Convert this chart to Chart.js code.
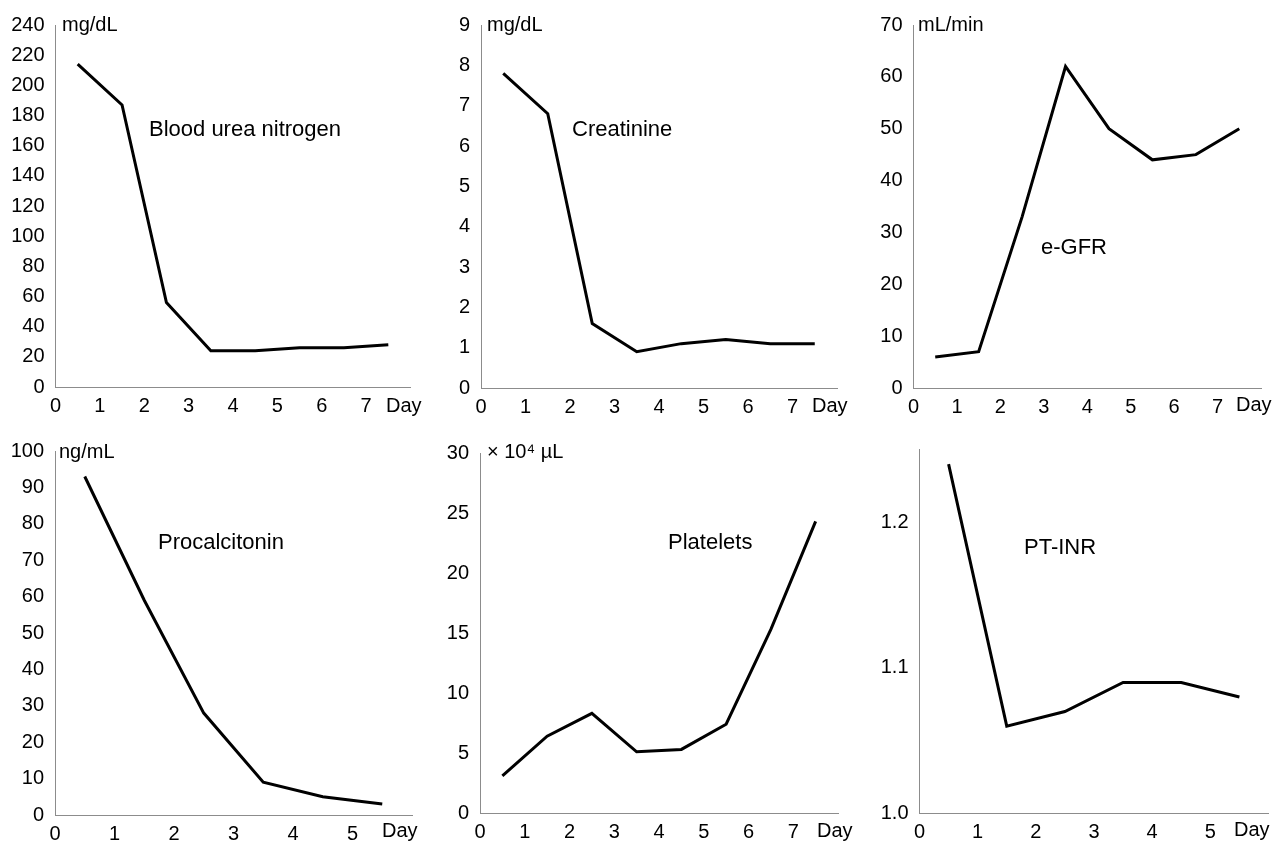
<!DOCTYPE html>
<html>
<head>
<meta charset="utf-8">
<script src="https://cdn.jsdelivr.net/npm/chart.js@4.4.1/dist/chart.umd.min.js"></script>
<style>
  html, body { margin: 0; padding: 0; background: #ffffff; }
  #wrap { position: relative; width: 1272px; height: 841px; overflow: hidden; background: #ffffff; }
  #wrap canvas { position: absolute; left: 0; top: 0; }
</style>
</head>
<body>
<div id="wrap"></div>
<script>
// ---------- data ----------
const days8 = [0.5, 1.5, 2.5, 3.5, 4.5, 5.5, 6.5, 7.5];
const days6 = [0.5, 1.5, 2.5, 3.5, 4.5, 5.5];

const bunValues        = [214, 187, 56, 24, 24, 26, 26, 28];
const creatinineValues = [7.8, 6.8, 1.6, 0.9, 1.1, 1.2, 1.1, 1.1];
const egfrValues       = [6, 7, 33, 62, 50, 44, 45, 50];
const pctValues        = [93, 59, 28, 9, 5, 3];
const plateletValues   = [3.1, 6.4, 8.3, 5.1, 5.3, 7.4, 15.3, 24.3];
const ptinrValues      = [1.24, 1.06, 1.07, 1.09, 1.09, 1.08];

// tick labels
const dayTicks8 = [0, 1, 2, 3, 4, 5, 6, 7];
const dayTicks6 = [0, 1, 2, 3, 4, 5];
const bunTicks  = [0, 20, 40, 60, 80, 100, 120, 140, 160, 180, 200, 220, 240];
const creTicks  = [0, 1, 2, 3, 4, 5, 6, 7, 8, 9];
const egfrTicks = [0, 10, 20, 30, 40, 50, 60, 70];
const pctTicks  = [0, 10, 20, 30, 40, 50, 60, 70, 80, 90, 100];
const pltTicks  = [0, 5, 10, 15, 20, 25, 30];
const inrTicks  = [1.0, 1.1, 1.2];

// names / units
const names = ['Blood urea nitrogen', 'Creatinine', 'e-GFR', 'Procalcitonin', 'Platelets', 'PT-INR'];
const units = ['mg/dL', 'mg/dL', 'mL/min', 'ng/mL', '× 10⁴ µL', ''];
const dayLabel = 'Day';

// ---------- layout (page pixels) ----------
const W = 1272, H = 900;
const FONT = '"Liberation Sans", Arial, Helvetica, sans-serif';
const YW = 50, XH = 34;

const panels = [
  { x: days8, y: bunValues, xMax: 8, xTicks: dayTicks8, yMin: 0, yMax: 240, yTicks: bunTicks, dec: 0,
    area: { l: 55.5, r: 410.5, t: 25, b: 387 },
    name: { x: 149, y: 130 }, unit: { x: 62, y: 25 }, day: { x: 386, y: 406 } },
  { x: days8, y: creatinineValues, xMax: 8, xTicks: dayTicks8, yMin: 0, yMax: 9, yTicks: creTicks, dec: 0,
    area: { l: 481, r: 837, t: 25, b: 388 },
    name: { x: 572, y: 130 }, unit: { x: 487, y: 25 }, day: { x: 812, y: 406 } },
  { x: days8, y: egfrValues, xMax: 8, xTicks: dayTicks8, yMin: 0, yMax: 70, yTicks: egfrTicks, dec: 0,
    area: { l: 913.5, r: 1261, t: 25, b: 388 },
    name: { x: 1041, y: 248 }, unit: { x: 918, y: 25 }, day: { x: 1236, y: 405 } },
  { x: days6, y: pctValues, xMax: 6, xTicks: dayTicks6, yMin: 0, yMax: 100, yTicks: pctTicks, dec: 0,
    area: { l: 55, r: 412, t: 451, b: 815 },
    name: { x: 158, y: 543 }, unit: { x: 59, y: 452 }, day: { x: 382, y: 831 } },
  { x: days8, y: plateletValues, xMax: 8, xTicks: dayTicks8, yMin: 0, yMax: 30, yTicks: pltTicks, dec: 0,
    area: { l: 480, r: 838, t: 453, b: 813 },
    name: { x: 668, y: 543 }, unit: { x: 487, y: 452 }, day: { x: 817, y: 831 } },
  { x: days6, y: ptinrValues, xMax: 6, xTicks: dayTicks6, yMin: 1.0, yMax: 1.25, yTicks: inrTicks, dec: 1,
    area: { l: 919.5, r: 1268.5, t: 449.5, b: 813.5 },
    name: { x: 1024, y: 548 }, unit: { x: 918, y: 452 }, day: { x: 1234, y: 830 } }
];

const panelText = {
  id: 'panelText',
  afterDraw(chart, args, opts) {
    const ctx = chart.ctx;
    ctx.save();
    ctx.fillStyle = '#000';
    ctx.textAlign = 'left';
    ctx.textBaseline = 'middle';
    (opts.items || []).forEach(it => {
      if (!it.text) return;
      ctx.font = it.size + 'px ' + FONT;
      ctx.fillText(it.text, it.x, it.y);
    });
    ctx.restore();
  }
};

const wrap = document.getElementById('wrap');

panels.forEach((p, i) => {
  const cv = document.createElement('canvas');
  cv.width = W; cv.height = H;
  cv.style.width = W + 'px'; cv.style.height = H + 'px';
  wrap.appendChild(cv);

  const pts = p.x.map((d, k) => ({ x: d, y: p.y[k] }));

  new Chart(cv.getContext('2d'), {
    type: 'line',
    data: {
      datasets: [{
        data: pts,
        borderColor: '#000',
        borderWidth: 3,
        pointRadius: 0,
        pointHoverRadius: 0,
        tension: 0,
        fill: false
      }]
    },
    options: {
      responsive: false,
      animation: false,
      devicePixelRatio: 1,
      events: [],
      layout: {
        padding: {
          left: p.area.l - YW,
          right: W - p.area.r,
          top: p.area.t,
          bottom: H - p.area.b - XH
        }
      },
      plugins: {
        legend: { display: false },
        tooltip: { enabled: false },
        panelText: {
          items: [
            { text: names[i], x: p.name.x, y: p.name.y, size: 22 },
            { text: units[i], x: p.unit.x, y: p.unit.y, size: 20 },
            { text: dayLabel, x: p.day.x, y: p.day.y, size: 20 }
          ]
        }
      },
      scales: {
        x: {
          type: 'linear',
          min: 0, max: p.xMax,
          grid: { display: false, drawTicks: false },
          border: { display: true, color: '#8c8c8c', width: 1, dash: [1, 1] },
          afterBuildTicks: s => { s.ticks = p.xTicks.map(v => ({ value: v })); },
          afterFit: s => { s.height = XH; },
          ticks: {
            color: '#000',
            padding: 7,
            maxRotation: 0,
            autoSkip: false,
            font: { family: FONT, size: 20 },
            callback: v => String(v)
          }
        },
        y: {
          type: 'linear',
          min: p.yMin, max: p.yMax,
          grid: { display: false, drawTicks: false },
          border: { display: true, color: '#8c8c8c', width: 1, dash: [1, 1] },
          afterBuildTicks: s => { s.ticks = p.yTicks.map(v => ({ value: v })); },
          afterFit: s => { s.width = YW; },
          ticks: {
            color: '#000',
            padding: 11,
            autoSkip: false,
            font: { family: FONT, size: 20 },
            callback: v => Number(v).toFixed(p.dec)
          }
        }
      }
    },
    plugins: [panelText]
  });
});
</script>
</body>
</html>
